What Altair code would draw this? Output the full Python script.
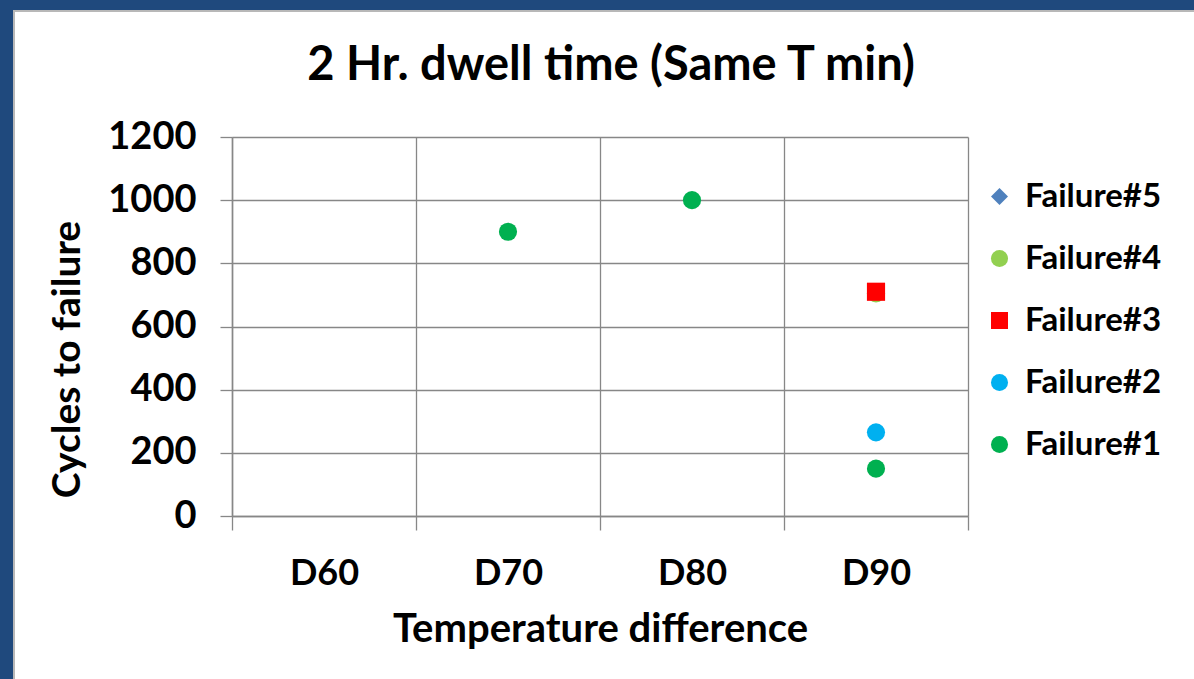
import altair as alt
import pandas as pd

categories = ["D60", "D70", "D80", "D90"]
series_names = ["Failure#5", "Failure#4", "Failure#3", "Failure#2", "Failure#1"]
series_colors = ["#4F81BD", "#92D050", "#FF0000", "#00B0F0", "#00B050"]
series_shapes = ["diamond", "circle", "square", "circle", "circle"]
y_ticks = [0, 200, 400, 600, 800, 1000, 1200]

point_series = ["Failure#1", "Failure#1", "Failure#1", "Failure#2", "Failure#4", "Failure#3"]
point_category = ["D70", "D80", "D90", "D90", "D90", "D90"]
point_cycles = [900, 1000, 150, 265, 705, 710]

df = pd.DataFrame({
    "Series": point_series,
    "Temperature": point_category,
    "Cycles": point_cycles,
    "ord": list(range(len(point_series))),
})

W, H = 736, 379
GRID = "#878787"
FONT = "Lato"

legend_kw = dict(
    title=None, orient="none", legendX=751, legendY=43,
    labelFont=FONT, labelFontSize=33, labelFontWeight="bold", labelColor="black",
    symbolSize=290, rowPadding=28, labelOffset=9, symbolStrokeWidth=0,
)

points = alt.Chart(df).mark_point(filled=True, size=330, opacity=1).encode(
    x=alt.X(
        "Temperature:N",
        scale=alt.Scale(type="band", domain=categories, paddingInner=0, paddingOuter=0),
        axis=alt.Axis(
            title="Temperature difference",
            tickBand="extent", grid=True, gridColor=GRID, gridWidth=1.3,
            domainColor=GRID, domainWidth=1.5, tickColor=GRID, tickWidth=1.3, tickSize=14,
            labelAngle=0, labelPadding=26, labelFont=FONT, labelFontSize=36,
            labelFontWeight="bold", labelColor="black",
            titleFont=FONT, titleFontSize=40, titleFontWeight="bold", titleColor="black",
            titleX=W / 2, titleY=125, titleBaseline="alphabetic",
        ),
    ),
    y=alt.Y(
        "Cycles:Q",
        scale=alt.Scale(domain=[0, 1200], nice=False, zero=True),
        axis=alt.Axis(
            title="Cycles to failure", values=y_ticks, format="d",
            grid=True, gridColor=GRID, gridWidth=1.3,
            domainColor=GRID, domainWidth=1.5, tickColor=GRID, tickWidth=1.3, tickSize=12,
            labelPadding=24, labelFont=FONT, labelFontSize=38,
            labelFontWeight="bold", labelColor="black",
            titleFont=FONT, titleFontSize=39, titleFontWeight="bold", titleColor="black",
            titleX=-153, titleY=H * 222 / 379, titleAngle=-90, titleBaseline="alphabetic",
        ),
    ),
    color=alt.Color(
        "Series:N",
        scale=alt.Scale(domain=series_names, range=series_colors),
        legend=alt.Legend(**legend_kw),
    ),
    shape=alt.Shape(
        "Series:N",
        scale=alt.Scale(domain=series_names, range=series_shapes),
        legend=alt.Legend(**legend_kw),
    ),
    order=alt.Order("ord:Q"),
)

one = alt.Data(values=[{}])
frame_top = alt.Chart(one).mark_rect(color="#1F497D").encode(
    x=alt.value(-232), x2=alt.value(W + 226), y=alt.value(-137), y2=alt.value(-127)
)
frame_left = alt.Chart(one).mark_rect(color="#1F497D").encode(
    x=alt.value(-232), x2=alt.value(-219), y=alt.value(-137), y2=alt.value(H + 163)
)
line_top = alt.Chart(one).mark_rect(color="#B8B8B8").encode(
    x=alt.value(-219), x2=alt.value(W + 226), y=alt.value(-127), y2=alt.value(-125)
)
line_left = alt.Chart(one).mark_rect(color="#B8B8B8").encode(
    x=alt.value(-219), x2=alt.value(-217), y=alt.value(-127), y2=alt.value(H + 163)
)

chart = alt.layer(frame_top, frame_left, line_top, line_left, points).properties(
    width=W, height=H,
    title=alt.TitleParams(
        "2 Hr. dwell time (Same T min)", font=FONT, fontSize=47, fontWeight="bold",
        color="black", anchor="middle", dx=11, offset=-127, baseline="alphabetic",
    ),
    autosize=alt.AutoSizeParams(type="none"),
    padding={"left": 232, "top": 137, "right": 226, "bottom": 163},
    background="white",
).configure_view(stroke=None)

chart.save("out.html", embed_options={"renderer": "svg", "actions": False})
